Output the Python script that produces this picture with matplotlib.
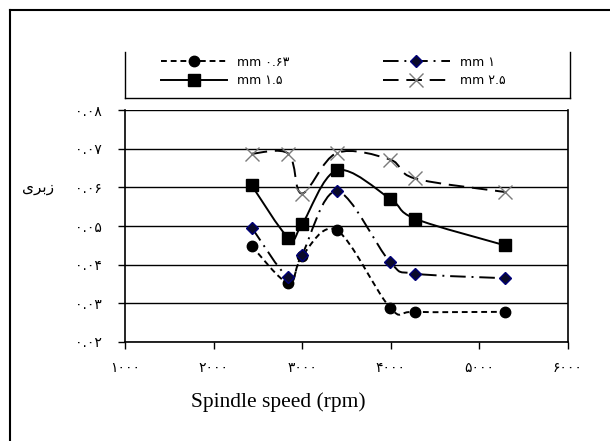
import numpy as np
import matplotlib
matplotlib.use("Agg")
import matplotlib.pyplot as plt
from matplotlib.path import Path
from matplotlib.patches import PathPatch
from matplotlib.lines import Line2D

# داده‌ها (خوانده شده از نمودار)
speed = [2430, 2845, 2997, 3392, 3991, 4273, 5289]
r_063 = [0.0448, 0.0352, 0.0422, 0.0489, 0.0289, 0.0278, 0.0278]
r_1 = [0.0496, 0.0367, 0.0425, 0.0590, 0.0407, 0.0377, 0.0365]
r_15 = [0.0605, 0.0470, 0.0504, 0.0644, 0.0571, 0.0519, 0.0450]
r_25 = [0.0687, 0.0687, 0.0584, 0.0689, 0.0672, 0.0623, 0.0588]
labels = ["mm ۰.۶۳", "mm ۱", "mm ۱.۵", "mm ۲.۵"]

x_ticks = [1000, 2000, 3000, 4000, 5000, 6000]
x_ticklabels = ["۱۰۰۰", "۲۰۰۰", "۳۰۰۰", "۴۰۰۰", "۵۰۰۰", "۶۰۰۰"]
y_ticks = [0.02, 0.03, 0.04, 0.05, 0.06, 0.07, 0.08]
y_ticklabels = ["۰.۰۲", "۰.۰۳", "۰.۰۴", "۰.۰۵", "۰.۰۶", "۰.۰۷", "۰.۰۸"]

plt.rcParams['font.family'] = ['DejaVu Sans']


def smooth_path(x, y):
    # منحنی هموار به سبک اکسل (بزیه)
    p = np.column_stack([x, y]).astype(float)
    verts = [p[0]]
    codes = [Path.MOVETO]
    n = len(p)
    for i in range(n - 1):
        p0 = p[i - 1] if i > 0 else p[i]
        p3 = p[i + 2] if i + 2 < n else p[i + 1]
        c1 = p[i] + (p[i + 1] - p0) / 6
        c2 = p[i + 1] - (p3 - p[i]) / 6
        verts += [c1, c2, p[i + 1]]
        codes += [Path.CURVE4] * 3
    return Path(verts, codes)


fig = plt.figure(figsize=(6.1, 4.41), dpi=100)
ax = fig.add_axes([0.205, 0.2245, 0.726, 0.526])

series = [
    (r_063, dict(ls=(0, (3, 2)), marker='o', ms=7.5, mfc='black', mec='black', mew=1)),
    (r_1, dict(ls=(0, (8, 3, 1, 3)), marker='D', ms=6, mfc='#0a0a2a', mec='#00007a', mew=1)),
    (r_15, dict(ls='-', marker='s', ms=9, mfc='black', mec='black', mew=1)),
    (r_25, dict(ls=(0, (8, 4)), marker='x', ms=10, mfc='none', mec='#7a7a7a', mew=1)),
]

handles = []
for (vals, st), lab in zip(series, labels):
    patch = PathPatch(smooth_path(speed, vals), fill=False, edgecolor='black',
                      lw=1.4, linestyle=st['ls'], zorder=3)
    ax.add_patch(patch)
    ax.plot(speed, vals, ls='none', marker=st['marker'], ms=st['ms'],
            mfc=st['mfc'], mec=st['mec'], mew=st['mew'], zorder=4)
    handles.append(Line2D([], [], color='black', lw=1.4, ls=st['ls'],
                          marker=st['marker'], ms=st['ms'], mfc=st['mfc'],
                          mec=st['mec'], mew=st['mew']))

ax.set_xlim(1000, 6000)
ax.set_ylim(0.02, 0.08)
ax.set_xticks(x_ticks)
ax.set_xticklabels(x_ticklabels, fontsize=10)
ax.set_yticks(y_ticks)
ax.set_yticklabels(y_ticklabels, fontsize=10)
ax.tick_params(direction='out', length=5, width=1, color='black')
ax.tick_params(axis='x', pad=9)
ax.tick_params(axis='y', pad=12)
ax.yaxis.grid(True, color='black', lw=1)
ax.set_axisbelow(True)
ax.spines['top'].set_visible(False)
for s in ['left', 'bottom', 'right']:
    ax.spines[s].set_linewidth(1.2)

fig.text(0.457, 0.088, "Spindle speed (rpm)", family='Liberation Serif',
         fontsize=15.5, ha='center', va='center')
fig.text(0.063, 0.575, "\uFBFC\uFEAE\uFE91\uFEAF", fontsize=11,
         ha='center', va='center')

# ترتیب راهنما: ستون اول ۰.۶۳ و ۱.۵، ستون دوم ۱ و ۲.۵
order = [0, 2, 1, 3]
leg = fig.legend([handles[i] for i in order], [labels[i] for i in order],
                 ncol=2, loc='center', bbox_to_anchor=(0.546, 0.838),
                 frameon=False, fontsize=9, handlelength=5.3,
                 columnspacing=7.5, labelspacing=0.45, handletextpad=0.8)

# قاب بیرونی و قاب راهنما
fig.add_artist(Line2D([10 / 610, 10 / 610], [0, 1 - 10 / 441], color='black', lw=1.5))
fig.add_artist(Line2D([10 / 610, 1], [1 - 10 / 441, 1 - 10 / 441], color='black', lw=1.5))
fig.add_artist(Line2D([125 / 610, 125 / 610], [1 - 52 / 441, 1 - 98 / 441], color='black', lw=1))
fig.add_artist(Line2D([570 / 610, 570 / 610], [1 - 52 / 441, 1 - 98 / 441], color='black', lw=1))
fig.add_artist(Line2D([125 / 610, 570 / 610], [1 - 98 / 441, 1 - 98 / 441], color='black', lw=1))

fig.savefig("out.png", dpi=100)
